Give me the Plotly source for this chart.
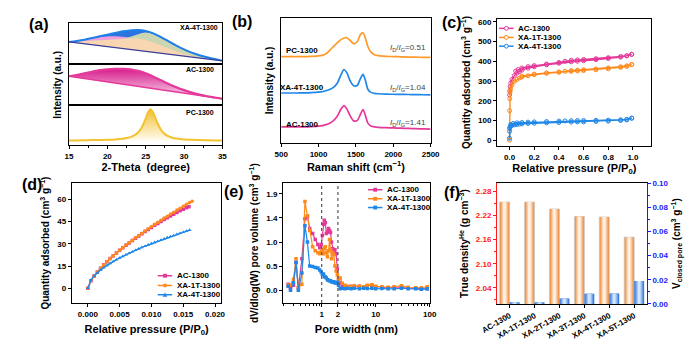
import plotly.graph_objects as go

W, H = 700, 345
FONT = "Liberation Sans"


def fx(p):
    return p / W


def fy(p):
    return 1 - p / H


def b(s):
    return "<b>" + s + "</b>"


MAG = "#e5399a"
ORG = "#ff8a1c"
BLU = "#1f87e8"
YEL = "#f2c230"

# ---------------- (a) XRD ----------------
xrd_pc_2theta = [15, 16, 17, 18, 19, 20, 21, 22, 22.5, 23, 23.5, 24, 24.5, 25, 25.3,
                 25.6, 25.9, 26.2, 26.5, 27, 27.5, 28, 28.5, 29, 30, 31, 32, 33, 34, 35]
xrd_pc_int = [0.0, 0.0, 0.005, 0.01, 0.015, 0.02, 0.03, 0.05, 0.07, 0.10, 0.15, 0.24, 0.40, 0.66, 0.84,
              0.94, 0.87, 0.72, 0.54, 0.32, 0.19, 0.12, 0.08, 0.055, 0.03, 0.02, 0.01, 0.005, 0.0, 0.0]

xrd_2theta = [15, 16, 17, 18, 19, 20, 21, 22, 23, 24, 25, 26, 27, 28, 29, 30, 31, 32, 33, 34, 35]
xrd_ac_int = [0.71, 0.74, 0.78, 0.82, 0.86, 0.88, 0.89, 0.89, 0.88, 0.84, 0.78, 0.70, 0.61, 0.52,
              0.44, 0.37, 0.31, 0.26, 0.22, 0.19, 0.16]
xrd_base_2theta = [15, 35]
xrd_ac_base = [0.71, 0.16]

xrd_xa_int = [0.535, 0.56, 0.59, 0.63, 0.67, 0.71, 0.75, 0.79, 0.81, 0.82, 0.80, 0.74, 0.65, 0.55,
              0.45, 0.36, 0.28, 0.22, 0.17, 0.13, 0.09]
xrd_xa_pink = [0.535, 0.56, 0.59, 0.62, 0.65, 0.665, 0.67, 0.66, 0.64, 0.625, 0.58, 0.52, 0.45, 0.38,
               0.31, 0.25, 0.20, 0.16, 0.135, 0.11, 0.086]
xrd_xa_green = [0.535, 0.545, 0.555, 0.565, 0.575, 0.585, 0.595, 0.61, 0.66, 0.72, 0.76, 0.72, 0.63,
                0.53, 0.43, 0.345, 0.27, 0.21, 0.16, 0.12, 0.088]
xrd_xa_orange = [0.535, 0.545, 0.555, 0.565, 0.575, 0.585, 0.595, 0.605, 0.615, 0.62, 0.58, 0.52,
                 0.45, 0.38, 0.31, 0.25, 0.20, 0.16, 0.135, 0.11, 0.086]
xrd_xa_base = [0.535, 0.086]

# ---------------- (b) Raman ----------------
raman_shift = [500, 600, 700, 800, 900, 1000, 1050, 1100, 1150, 1200, 1250, 1300, 1340, 1380, 1420,
               1470, 1520, 1560, 1595, 1625, 1660, 1700, 1750, 1800, 1900, 2000, 2100, 2200, 2300,
               2400, 2500]
raman_ac = [0.130, 0.130, 0.130, 0.131, 0.133, 0.137, 0.141, 0.148, 0.160, 0.180, 0.215, 0.272, 0.300,
            0.272, 0.222, 0.178, 0.182, 0.230, 0.268, 0.225, 0.160, 0.138, 0.130, 0.127, 0.124, 0.122,
            0.120, 0.118, 0.116, 0.114, 0.113]
raman_xa4t = [0.400, 0.400, 0.400, 0.401, 0.403, 0.407, 0.411, 0.418, 0.428, 0.445, 0.478, 0.545,
              0.587, 0.560, 0.500, 0.458, 0.462, 0.515, 0.549, 0.505, 0.430, 0.405, 0.397, 0.394,
              0.391, 0.390, 0.389, 0.388, 0.387, 0.386, 0.385]
raman_pc = [0.690, 0.690, 0.690, 0.690, 0.692, 0.695, 0.700, 0.712, 0.740, 0.770, 0.800, 0.825, 0.838,
            0.840, 0.820, 0.792, 0.810, 0.865, 0.880, 0.840, 0.770, 0.725, 0.705, 0.697, 0.692, 0.690,
            0.688, 0.686, 0.685, 0.684, 0.683]
raman_ratio = ["0.51", "1.04", "1.41"]

# ---------------- (c) N2 isotherms ----------------
ac_ads_p = [0.0005, 0.002, 0.005, 0.01, 0.02, 0.04, 0.06, 0.08, 0.10, 0.15, 0.20, 0.30, 0.40, 0.50,
            0.55, 0.60, 0.70, 0.80, 0.90, 0.95, 0.99]
ac_ads_q = [230, 250, 272, 290, 308, 328, 340, 348, 355, 365, 372, 382, 390, 397, 400, 403, 408, 414,
            421, 427, 435]
ac_des_p = [0.99, 0.95, 0.90, 0.80, 0.70, 0.60, 0.55, 0.50, 0.45, 0.40, 0.30, 0.20, 0.15, 0.10, 0.07, 0.05]
ac_des_q = [435, 428, 424, 418, 413, 409, 407, 405, 400, 394, 386, 378, 373, 366, 358, 350]

x1t_ads_p = [0.0, 0.0003, 0.001, 0.002, 0.005, 0.01, 0.02, 0.04, 0.06, 0.08, 0.10, 0.15, 0.20, 0.30,
             0.40, 0.50, 0.55, 0.60, 0.70, 0.80, 0.90, 0.95, 0.99]
x1t_ads_q = [0, 60, 150, 210, 245, 262, 280, 298, 308, 315, 320, 327, 332, 339, 344, 349, 351, 353,
             357, 362, 369, 374, 383]
x1t_des_p = [0.99, 0.95, 0.90, 0.80, 0.70, 0.60, 0.55, 0.50, 0.45, 0.40, 0.30, 0.20, 0.10]
x1t_des_q = [383, 377, 372, 366, 361, 357, 355, 353, 349, 346, 341, 335, 325]

x4t_ads_p = [0.0, 0.0005, 0.002, 0.005, 0.01, 0.02, 0.04, 0.06, 0.08, 0.10, 0.15, 0.20, 0.30, 0.40,
             0.50, 0.55, 0.60, 0.70, 0.80, 0.90, 0.95, 0.99]
x4t_ads_q = [10, 45, 62, 68, 72, 75, 78, 80, 82, 83, 85, 86, 88, 90, 92, 93, 93, 95, 97, 100, 103, 112]
x4t_des_p = [0.99, 0.95, 0.90, 0.80, 0.70, 0.60, 0.55, 0.50, 0.45, 0.40, 0.30, 0.20, 0.15, 0.10, 0.06,
             0.03, 0.01]
x4t_des_q = [112, 106, 104, 102, 101, 100, 100, 99, 98, 97, 95, 93, 92, 90, 88, 85, 80]

# ---------------- (d) low-pressure ----------------
lp_ac_p = [0.0000, 0.0005, 0.0010, 0.0015, 0.0020, 0.0025, 0.0030, 0.0035, 0.0040, 0.0045, 0.0050,
           0.0055, 0.0060, 0.0065, 0.0070, 0.0075, 0.0080, 0.0085, 0.0090, 0.0095, 0.0100, 0.0105,
           0.0110, 0.0115, 0.0120, 0.0125, 0.0130, 0.0135, 0.0140, 0.0145, 0.0150, 0.0155, 0.0159]
lp_ac_q = [0.0, 5.1, 8.3, 11.0, 13.5, 15.8, 17.9, 20.0, 22.0, 23.8, 25.6, 27.3, 29.0, 30.6, 32.2, 33.8,
           35.3, 36.8, 38.3, 39.7, 41.1, 42.5, 43.8, 45.1, 46.4, 47.6, 48.8, 50.0, 51.2, 52.3, 53.4,
           54.4, 55.1]
lp_x1t_p = [0.0000, 0.0005, 0.0010, 0.0015, 0.0020, 0.0025, 0.0030, 0.0035, 0.0040, 0.0045, 0.0050,
            0.0055, 0.0060, 0.0065, 0.0070, 0.0075, 0.0080, 0.0085, 0.0090, 0.0095, 0.0100, 0.0105,
            0.0110, 0.0115, 0.0120, 0.0125, 0.0130, 0.0135, 0.0140, 0.0145, 0.0150, 0.0155, 0.0160,
            0.0164]
lp_x1t_q = [0.0, 5.1, 8.3, 11.0, 13.5, 15.8, 17.9, 20.0, 22.0, 23.8, 25.7, 27.4, 29.2, 30.8, 32.5, 34.1,
            35.7, 37.2, 38.7, 40.2, 41.7, 43.2, 44.6, 46.0, 47.4, 48.7, 50.1, 51.4, 52.8, 54.1, 55.4,
            56.7, 57.9, 58.8]
lp_x4t_p = [0.0000, 0.0005, 0.0010, 0.0015, 0.0020, 0.0025, 0.0030, 0.0035, 0.0040, 0.0045, 0.0050,
            0.0055, 0.0060, 0.0065, 0.0070, 0.0075, 0.0080, 0.0085, 0.0090, 0.0095, 0.0100, 0.0105,
            0.0110, 0.0115, 0.0120, 0.0125, 0.0130, 0.0135, 0.0140, 0.0145, 0.0150, 0.0155, 0.0160]
lp_x4t_q = [0.0, 5.6, 8.3, 10.4, 12.3, 13.9, 15.4, 16.8, 18.1, 19.3, 20.5, 21.6, 22.7, 23.7, 24.7, 25.7,
            26.6, 27.6, 28.4, 29.3, 30.2, 31.0, 31.8, 32.6, 33.4, 34.2, 35.0, 35.7, 36.4, 37.2, 37.9,
            38.6, 39.3]

# ---------------- (e) pore size distribution ----------------
psd_w = [0.24, 0.265, 0.30, 0.335, 0.37, 0.43, 0.49, 0.545, 0.60, 0.68, 0.76, 0.85, 0.92, 0.98, 1.03,
         1.08, 1.12, 1.17, 1.22, 1.28, 1.34, 1.40, 1.46, 1.52, 1.60, 1.68, 1.76, 1.85, 1.95, 2.05, 2.2,
         2.4, 2.7, 3.0, 3.5, 4.0, 5.0, 6.0, 7.0, 8.5, 10, 13, 17, 22, 30, 40, 55, 70, 90]
psd_ac = [0.12, 0.03, 0.10, 0.55, 0.05, 0.62, 1.41, 1.45, 1.22, 1.12, 1.00, 0.90, 0.84, 0.90, 1.08,
          1.30, 1.38, 1.33, 1.12, 1.15, 1.22, 1.18, 1.14, 0.95, 0.82, 0.75, 0.80, 0.72, 0.42, 0.22, 0.15,
          0.10, 0.08, 0.07, 0.08, 0.06, 0.08, 0.07, 0.09, 0.10, 0.07, 0.06, 0.05, 0.06, 0.06, 0.04, 0.04,
          0.03, 0.03]
psd_x1t = [0.10, 0.10, 0.22, 0.62, 0.05, 0.12, 1.75, 1.47, 1.18, 0.86, 0.78, 0.74, 0.72, 0.76, 0.80,
           0.72, 0.83, 0.86, 0.74, 0.66, 0.78, 1.00, 0.80, 0.62, 0.74, 0.70, 0.48, 0.38, 0.30, 0.20, 0.24,
           0.14, 0.10, 0.08, 0.07, 0.09, 0.08, 0.07, 0.10, 0.11, 0.08, 0.07, 0.06, 0.07, 0.09, 0.06, 0.05,
           0.05, 0.07]
psd_x4t = [0.08, 0.0, 0.15, 0.55, 0.0, 0.34, 1.27, 0.95, 0.48, 0.47, 0.45, 0.44, 0.40, 0.36, 0.31,
           0.32, 0.27, 0.26, 0.24, 0.21, 0.20, 0.19, 0.19, 0.17, 0.16, 0.17, 0.15, 0.14, 0.16, 0.10, 0.03,
           0.04, 0.03, 0.04, 0.03, 0.04, 0.03, 0.04, 0.035, 0.04, 0.03, 0.035, 0.03, 0.03, 0.04, 0.03,
           0.03, 0.02, 0.03]
psd_guides = [1, 2]
psd_yticks = [0, 0.475, 0.95, 1.425, 1.9]
psd_yticktext = ["0.0", "0.5", "1.0", "1.4", "1.9"]
psd_xticks = [1, 2, 10, 100]
psd_minor = [0.2, 0.3, 0.4, 0.5, 0.6, 0.7, 0.8, 0.9, 3, 4, 5, 6, 7, 8, 9, 20, 30, 40, 50, 60, 70, 80, 90]

# ---------------- (f) true density / closed pores ----------------
samples = ["AC-1300", "XA-1T-1300", "XA-2T-1300", "XA-3T-1300", "XA-4T-1300", "XA-5T-1300"]
true_density = [2.253, 2.253, 2.236, 2.217, 2.216, 2.166]
v_closed = [0.0013, 0.0013, 0.0045, 0.0084, 0.0086, 0.019]

fig = go.Figure()

# ---- (a) traces ----
XA = dict(xaxis="x", yaxis="y")
layers = [(xrd_xa_int, "#2b74e0"), (xrd_xa_pink, "#ee9fdc"), (xrd_xa_green, "#ccd5b2"),
          (xrd_xa_orange, "#f8d6b2")]
for env, col in layers:
    fig.add_trace(go.Scatter(x=xrd_base_2theta, y=xrd_xa_base, mode="lines", line=dict(width=0),
                             showlegend=False, hoverinfo="skip", **XA))
    fig.add_trace(go.Scatter(x=xrd_2theta, y=env, mode="lines", line=dict(width=0, shape="spline"),
                             fill="tonexty", fillcolor=col, showlegend=False, **XA))
fig.add_trace(go.Scatter(x=xrd_2theta, y=xrd_xa_int, mode="lines",
                         line=dict(color="#1f80ea", width=2, shape="spline"), showlegend=False, **XA))
fig.add_trace(go.Scatter(x=xrd_base_2theta, y=xrd_xa_base, mode="lines",
                         line=dict(color="#3b3f9c", width=1.3), showlegend=False, **XA))

fig.add_trace(go.Scatter(x=xrd_base_2theta, y=xrd_ac_base, mode="lines",
                         line=dict(color=MAG, width=1.3), showlegend=False, xaxis="x2", yaxis="y2"))
fig.add_trace(go.Scatter(x=xrd_2theta, y=xrd_ac_int, mode="lines",
                         line=dict(color=MAG, width=2.2, shape="spline"), fill="tonexty",
                         fillgradient=dict(type="vertical",
                                           colorscale=[[0, "#f9dcef"], [1, "#d81d8c"]]),
                         showlegend=False, xaxis="x2", yaxis="y2"))

fig.add_trace(go.Scatter(x=xrd_pc_2theta, y=xrd_pc_int, mode="lines",
                         line=dict(color=YEL, width=2, shape="spline", smoothing=0.8), fill="tozeroy",
                         fillgradient=dict(type="vertical",
                                           colorscale=[[0, "#fffbee"], [1, "#f0c030"]]),
                         showlegend=False, xaxis="x3", yaxis="y3"))

# ---- (b) Raman ----
for ys, col in [(raman_pc, "#ff9a2a"), (raman_xa4t, BLU), (raman_ac, MAG)]:
    fig.add_trace(go.Scatter(x=raman_shift, y=ys, mode="lines", line=dict(color=col, width=1.7,
                             shape="spline", smoothing=0.7), showlegend=False, xaxis="x4", yaxis="y4"))

# ---- (c) isotherms ----
for ap, aq, dp, dq, col, name in [
    (ac_ads_p, ac_ads_q, ac_des_p, ac_des_q, MAG, "AC-1300"),
    (x1t_ads_p, x1t_ads_q, x1t_des_p, x1t_des_q, ORG, "XA-1T-1300"),
    (x4t_ads_p, x4t_ads_q, x4t_des_p, x4t_des_q, BLU, "XA-4T-1300"),
]:
    fig.add_trace(go.Scatter(x=ap + dp, y=aq + dq, mode="lines+markers", name=name,
                             line=dict(color=col, width=1.4),
                             marker=dict(symbol="circle-open", size=4, color=col, line=dict(width=1)),
                             showlegend=False, xaxis="x5", yaxis="y5"))

# ---- (d) low pressure ----
for p, q, col, sym, name in [
    (lp_ac_p, lp_ac_q, MAG, "square", "AC-1300"),
    (lp_x1t_p, lp_x1t_q, ORG, "circle", "XA-1T-1300"),
    (lp_x4t_p, lp_x4t_q, BLU, "triangle-up", "XA-4T-1300"),
]:
    fig.add_trace(go.Scatter(x=p, y=q, mode="lines+markers", name=name, line=dict(color=col, width=1.3),
                             marker=dict(symbol=sym, size=3.5, color=col),
                             showlegend=False, xaxis="x6", yaxis="y6"))

# ---- (e) PSD ----
for v, col, name in [(psd_ac, MAG, "AC-1300"), (psd_x1t, ORG, "XA-1T-1300"),
                     (psd_x4t, BLU, "XA-4T-1300")]:
    fig.add_trace(go.Scatter(x=psd_w, y=v, mode="lines+markers", name=name, line=dict(color=col, width=1.2),
                             marker=dict(symbol="square", size=3.5, color=col),
                             showlegend=False, xaxis="x7", yaxis="y7"))
for g in psd_guides:
    fig.add_shape(type="line", xref="x7", yref="y7 domain", x0=g, x1=g, y0=0, y1=1,
                  line=dict(color="#555555", width=1.2, dash="dot"))

# ---- (f) bars with cylinder-like shading ----
org_layers = [(0.40, "#ee8a3e"), (0.32, "#f4a565"), (0.24, "#f8c394"), (0.16, "#fcdcbf"),
              (0.08, "#fff2e4")]
blu_layers = [(0.40, "#3a7ede"), (0.30, "#6da1ea"), (0.20, "#a5c6f3"), (0.10, "#d6e6fb")]
for i, (w, c) in enumerate(org_layers):
    fig.add_trace(go.Bar(x=samples, y=true_density, width=w, offset=-0.2 - w / 2,
                         marker=dict(color=c, line=dict(color="#c9c9c9" if i == 0 else c,
                                                        width=0.8 if i == 0 else 0)),
                         showlegend=False, xaxis="x8", yaxis="y8"))
for w, c in blu_layers:
    fig.add_trace(go.Bar(x=samples, y=v_closed, width=w, offset=0.2 - w / 2,
                         marker=dict(color=c, line=dict(width=0)),
                         showlegend=False, xaxis="x8", yaxis="y9"))

# ---------------- axes ----------------
TF = dict(family=FONT, size=8, color="black")
XTF = dict(family=FONT, size=11, color="black")
YTF = dict(family=FONT, size=10, color="black")


def ax(**kw):
    base = dict(showline=True, linecolor="black", linewidth=1.3, mirror=True, ticks="outside",
                ticklen=3, tickwidth=1, tickcolor="black", tickfont=TF, showgrid=False,
                zeroline=False, fixedrange=True, tickprefix="<b>", ticksuffix="</b>")
    base.update(kw)
    return base


A_X = [fx(55), fx(214)]
fig.update_layout(
    xaxis=ax(domain=A_X, range=[15, 35], anchor="y", ticks="", showticklabels=False),
    yaxis=ax(domain=[fy(62), fy(19)], range=[0, 1], anchor="x", ticks="", showticklabels=False),
    xaxis2=ax(domain=A_X, range=[15, 35], anchor="y2", ticks="", showticklabels=False),
    yaxis2=ax(domain=[fy(104), fy(62)], range=[0, 1], anchor="x2", ticks="", showticklabels=False,
              title=dict(text=b("Intensity (a.u.)"), font=YTF, standoff=4)),
    xaxis3=ax(domain=A_X, range=[15, 35], anchor="y3", dtick=5, tick0=15,
              minor=dict(dtick=2.5, tick0=15, ticks="outside", ticklen=2, tickcolor="black"),
              title=dict(text=b("2-Theta\u00a0 (degree)"), font=XTF, standoff=3)),
    yaxis3=ax(domain=[fy(145), fy(104)], range=[-0.145, 1.06], anchor="x3", ticks="",
              showticklabels=False),
    xaxis4=ax(domain=[fx(275), fx(430)], range=[500, 2500], anchor="y4", dtick=500,
              title=dict(text=b("Raman shift (cm<sup>\u22121</sup>)"), font=XTF, standoff=3)),
    yaxis4=ax(domain=[fy(143), fy(14)], range=[0, 1], anchor="x4", ticks="", showticklabels=False,
              title=dict(text=b("Intensity (a.u.)"), font=YTF, standoff=4)),
    xaxis5=ax(domain=[fx(499), fx(659)], range=[-0.1, 1.15], anchor="y5", dtick=0.2, tick0=0,
              tickformat=".1f",
              title=dict(text=b("Relative pressure (P/P<sub>0</sub>)"), font=XTF, standoff=3)),
    yaxis5=ax(domain=[fy(146), fy(15)], range=[-30, 616], anchor="x5", dtick=100,
              title=dict(text=b("Quantity adsorbed (cm<sup>3</sup> g<sup>\u22121</sup>)"), font=YTF,
                         standoff=5)),
    xaxis6=ax(domain=[fx(58), fx(213)], range=[-0.0025, 0.021], anchor="y6", dtick=0.005, tick0=0,
              tickformat=".3f",
              title=dict(text=b("Relative pressure (P/P<sub>0</sub>)"), font=XTF, standoff=7)),
    yaxis6=ax(domain=[fy(307), fy(184)], range=[-10, 71], anchor="x6", dtick=15, tick0=0,
              title=dict(text=b("Quantity adsorbed (cm<sup>3</sup> g<sup>\u22121</sup>)"), font=YTF,
                         standoff=5)),
    xaxis7=ax(domain=[fx(277), fx(429)], type="log", range=[-0.714, 2], anchor="y7",
              tickvals=psd_xticks, ticktext=[b(str(t)) for t in psd_xticks], tickprefix="",
              ticksuffix="",
              minor=dict(tickvals=psd_minor, ticks="outside", ticklen=2, tickcolor="black"),
              title=dict(text=b("Pore width (nm)"), font=XTF, standoff=7)),
    yaxis7=ax(domain=[fy(307), fy(184)], range=[-0.25, 2.11], anchor="x7", tickvals=psd_yticks,
              ticktext=[b(t) for t in psd_yticktext], tickprefix="", ticksuffix="",
              title=dict(text=b("dV/dlog(W) pore volume (cm<sup>3</sup> g<sup>\u22121</sup>)"),
                         font=YTF, standoff=5)),
    xaxis8=ax(domain=[fx(499), fx(654)], range=[-0.5, 5.5], anchor="y8", type="category",
              tickangle=-30, tickfont=dict(family=FONT, size=8, color="black")),
    yaxis8=ax(domain=[fy(308), fy(184)], range=[2.0, 2.3], anchor="x8", dtick=0.06, tick0=0,
              tickformat=".2f", mirror=False, linecolor="#ff1a1a", tickcolor="#ff1a1a",
              tickfont=dict(family=FONT, size=8, color="#ff1a1a"),
              minor=dict(dtick=0.03, tick0=0, ticks="outside", ticklen=2, tickcolor="#ff1a1a"),
              title=dict(text=b("True density<sup>He</sup> (g cm<sup>\u22123</sup>)"), font=YTF,
                         standoff=5)),
    yaxis9=ax(domain=[fy(308), fy(184)], range=[0, 0.1], anchor="x8", overlaying="y8", side="right",
              dtick=0.02, tick0=0, tickformat=".2f", mirror=False, linecolor="#1a1aff",
              tickcolor="#1a1aff",
              tickfont=dict(family=FONT, size=8, color="#1a1aff"),
              minor=dict(dtick=0.01, tick0=0, ticks="outside", ticklen=2, tickcolor="#1a1aff"),
              title=dict(text=b("V<sub>closed pore</sub> (cm<sup>3</sup> g<sup>\u22121</sup>)"),
                         font=YTF, standoff=5)),
)

# ---------------- annotations ----------------
ann = []


def txt(x, y, s, size=8, bold=True, color="black", xanchor="center"):
    ann.append(dict(x=fx(x), y=fy(y), xref="paper", yref="paper", text=b(s) if bold else s,
                    showarrow=False, xanchor=xanchor, yanchor="middle",
                    font=dict(family=FONT, size=size, color=color)))


for lbl, x, y in [("(a)", 24, 21), ("(b)", 234, 18), ("(c)", 452, 19), ("(d)", 17, 185),
                  ("(e)", 226, 193), ("(f)", 452, 194)]:
    txt(x, y, lbl, size=16)

txt(190, 24, "XA-4T-1300", size=7)
txt(191, 67, "AC-1300", size=7)
txt(191, 111, "PC-1300", size=7)

txt(297, 48, "PC-1300", size=8)
txt(297, 86, "XA-4T-1300", size=8)
txt(297, 124, "AC-1300", size=8)
for r, y in zip(raman_ratio, [45, 86, 122]):
    txt(406, y, "<i>I</i><sub>D</sub>/<i>I</i><sub>G</sub>=" + r, size=8, bold=False,
        color="#444444")

shapes = []


def legend_entry(x0, y, label, color, symbol):
    shapes.append(dict(type="line", xref="paper", yref="paper", x0=fx(x0), x1=fx(x0 + 15),
                       y0=fy(y), y1=fy(y), line=dict(color=color, width=1.5)))
    cx, m = x0 + 7.5, 2.0
    if symbol == "circle-open":
        shapes.append(dict(type="circle", xref="paper", yref="paper", x0=fx(cx - m), x1=fx(cx + m),
                           y0=fy(y + m), y1=fy(y - m), line=dict(color=color, width=1),
                           fillcolor="white"))
    elif symbol == "circle":
        shapes.append(dict(type="circle", xref="paper", yref="paper", x0=fx(cx - m), x1=fx(cx + m),
                           y0=fy(y + m), y1=fy(y - m), line=dict(color=color, width=0),
                           fillcolor=color))
    elif symbol == "square":
        shapes.append(dict(type="rect", xref="paper", yref="paper", x0=fx(cx - m), x1=fx(cx + m),
                           y0=fy(y + m), y1=fy(y - m), line=dict(color=color, width=0),
                           fillcolor=color))
    elif symbol == "triangle":
        path = "M %f,%f L %f,%f L %f,%f Z" % (fx(cx - m - 0.4), fy(y + m), fx(cx + m + 0.4), fy(y + m),
                                              fx(cx), fy(y - m - 0.4))
        shapes.append(dict(type="path", xref="paper", yref="paper", path=path,
                           line=dict(color=color, width=0), fillcolor=color))
    txt(x0 + 18, y, label, size=8, xanchor="left")


for (nm, col), y in zip([("AC-1300", MAG), ("XA-1T-1300", ORG), ("XA-4T-1300", BLU)], [25, 34.3, 43.3]):
    legend_entry(501, y, nm, col, "circle-open")
for (nm, col, sym), y in zip([("AC-1300", MAG, "square"), ("XA-1T-1300", ORG, "circle"),
                               ("XA-4T-1300", BLU, "triangle")], [279, 289, 298.5]):
    legend_entry(147, y, nm, col, sym)
for (nm, col), y in zip([("AC-1300", MAG), ("XA-1T-1300", ORG), ("XA-4T-1300", BLU)], [190.7, 200, 209]):
    legend_entry(365, y, nm, col, "square")

fig.update_layout(
    width=W, height=H, margin=dict(l=0, r=0, t=0, b=0), autosize=False,
    paper_bgcolor="white", plot_bgcolor="white", barmode="overlay", showlegend=False,
    font=dict(family=FONT, size=10, color="black"),
    annotations=ann, shapes=list(fig.layout.shapes) + shapes,
)

fig.write_html("out.html")
